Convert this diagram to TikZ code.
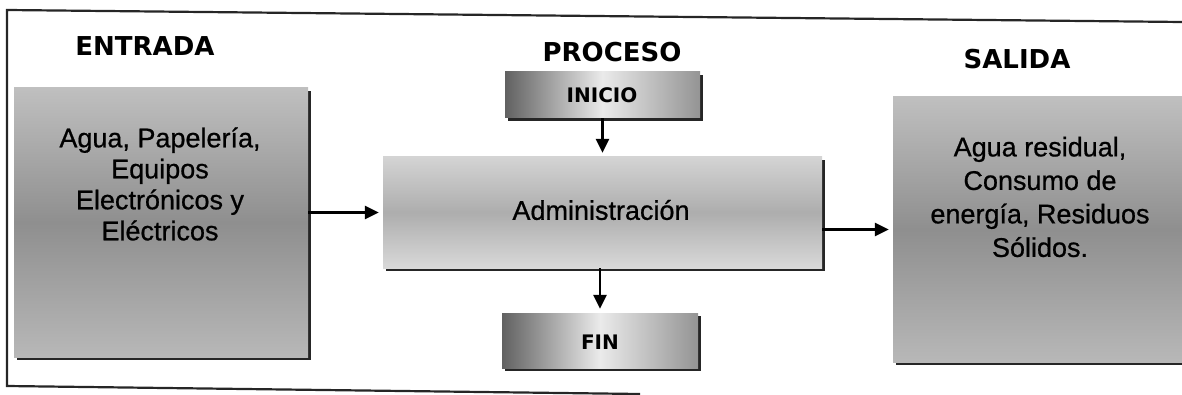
\documentclass[tikz,border=0pt]{standalone}
\usepackage{fontspec}
\setmainfont{Liberation Sans}
\newfontfamily\boxfont{Liberation Sans}[FakeBold=0.7]
\newfontfamily\titlefont{DejaVu Sans}
\usetikzlibrary{arrows.meta,shadows,calc}
\begin{document}
\begin{tikzpicture}[x=1pt,y=-1pt,
  frameline/.style={line width=2.2pt,black!85},
  title/.style={font=\titlefont\bfseries\fontsize{26}{30}\selectfont,inner sep=0pt},
  bigtext/.style={font=\boxfont\fontsize{27}{31}\selectfont,align=center,inner sep=0pt},
  smalltext/.style={font=\titlefont\bfseries\fontsize{20}{24}\selectfont,inner sep=0pt},
  boxshadow/.style={drop shadow={shadow xshift=3pt,shadow yshift=-3pt,fill=black!85,opacity=1}},
  bigbox/.style={boxshadow,inner sep=0pt,shade,top color=black!25,bottom color=black!28,middle color=black!44},
  midbox/.style={boxshadow,inner sep=0pt,shade,top color=black!17,bottom color=black!15,middle color=black!32},
  endbox/.style={boxshadow,inner sep=0pt,shade,left color=black!62,right color=black!42,middle color=black!8},
  link/.style={line width=2.6pt,-{Triangle[length=14pt,width=13pt]},shorten >=4pt}
]
\useasboundingbox (0,0) rectangle (1182,395);
% frame
\coordinate (ftl) at (7,10);
\coordinate (ftr) at (1182,22);
\coordinate (fbl) at (7,386);
\coordinate (fbr) at (640,394);
\draw[frameline] (ftr) -- (ftl) -- (fbl) -- (fbr);
% titles
\node[title] (tent) at (145,46) {ENTRADA};
\node[title] (tpro) at (612,52) {PROCESO};
\node[title] (tsal) at (1017,59) {SALIDA};
% boxes
\node[bigbox,minimum width=294pt,minimum height=269pt] (ent) at (161,222.5) {};
\node[bigbox,minimum width=289pt,minimum height=265pt] (sal) at (1037.5,229.5) {};
\node[midbox,minimum width=439pt,minimum height=111pt] (adm) at (602.5,212.5) {};
\node[endbox,minimum width=195pt,minimum height=46pt] (ini) at (602.5,95) {};
\node[endbox,minimum width=196pt,minimum height=55pt] (fin) at (600,340.5) {};
% texts
\node[bigtext] (tx1) at (160,184) {Agua, Papelería,\\Equipos\\Electrónicos y\\Eléctricos};
\node[bigtext] (tx2) at (601,210) {Administración};
\node[bigtext,font=\boxfont\fontsize{27}{33.5}\selectfont] (tx3) at (1040,197) {Agua residual,\\Consumo de\\energía, Residuos\\Sólidos.};
\node[smalltext] (tx4) at (602,95) {INICIO};
\node[smalltext] (tx5) at (600,342) {FIN};
% connectors
\draw[link] (ent.east |- adm.west) -- (adm.west);
\draw[link] (adm.east |- sal.west) -- (sal.west);
\draw[link] (ini.south) -- (adm.north);
\draw[link] (adm.south -| fin.north) -- (fin.north);
\end{tikzpicture}
\end{document}
